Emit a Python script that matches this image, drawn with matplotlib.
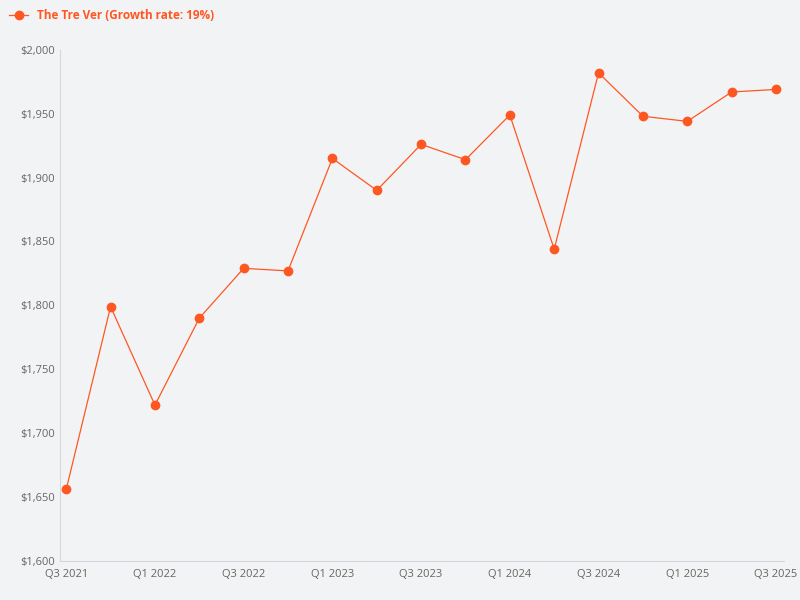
import matplotlib.pyplot as plt
from matplotlib.ticker import FuncFormatter

plt.rcParams['font.family'] = ['Open Sans', 'DejaVu Sans']

quarters = ["Q3 2021", "Q4 2021", "Q1 2022", "Q2 2022", "Q3 2022", "Q4 2022",
            "Q1 2023", "Q2 2023", "Q3 2023", "Q4 2023", "Q1 2024", "Q2 2024",
            "Q3 2024", "Q4 2024", "Q1 2025", "Q2 2025", "Q3 2025"]
values = [1656, 1799, 1722, 1790, 1829, 1827, 1915, 1890, 1926, 1914,
          1949, 1844, 1982, 1948, 1944, 1967, 1969]

bg = '#f2f3f5'
color = '#ff5722'

fig = plt.figure(figsize=(8, 6), dpi=100, facecolor=bg)
ax = fig.add_axes([0.075, 0.065, 0.905, 0.852])
ax.set_facecolor(bg)

x = list(range(len(quarters)))
ax.plot(x, values, color=color, linewidth=0.9, marker='o', markersize=6)

ax.set_ylim(1600, 2000)
ax.set_xlim(-0.14, len(quarters) - 1 + 0.18)
ax.set_yticks(range(1600, 2001, 50))
ax.yaxis.set_major_formatter(FuncFormatter(lambda v, p: f"${v:,.0f}"))
ax.set_xticks(x[::2])
ax.set_xticklabels(quarters[::2])
ax.tick_params(axis='both', length=0, labelsize=8, colors='#666666')
ax.tick_params(axis='x', pad=6)
for s in ['top', 'right']:
    ax.spines[s].set_visible(False)
ax.spines['left'].set_color('#d0d7e0')
ax.spines['bottom'].set_color('#d0d7e0')

ax.legend([plt.Line2D([0], [0], color=color, marker='o', lw=0.9, markersize=6)],
          ["The Tre Ver (Growth rate: 19%)"], loc='upper left',
          bbox_to_anchor=(-0.085, 1.1), frameon=False, handlelength=1.6,
          prop={'weight': 'bold', 'size': 8.5}, labelcolor=color)

fig.savefig('out.png', facecolor=bg)
